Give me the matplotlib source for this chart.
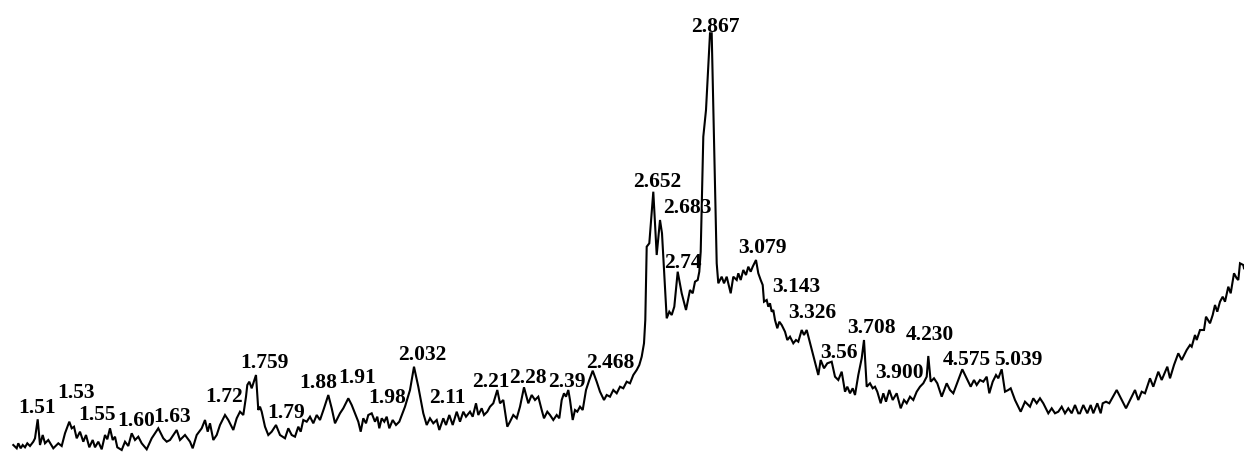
import numpy as np
import matplotlib
matplotlib.use("Agg")
from matplotlib import pyplot as plt

# trace of the pattern: horizontal position and intensity
position = [
    13.3, 16.7, 18.3, 20.7, 22.7, 25, 27.3, 30, 33.3, 35, 37.7, 40, 42.7, 45, 48.3,
    53.3, 58.3, 61.7, 65, 69.3, 71.7, 74, 76.7, 80, 83.3, 86, 89.3, 92.7, 95, 98.3,
    101.7, 105, 107.3, 110, 112.7, 115, 117.3, 121.7, 125, 128.3, 131.7, 135, 138.3,
    141.7, 146.7, 151.7, 158.3, 163.3, 166.7, 170, 176.7, 180, 185, 190, 192.7, 196.7,
    201.7, 205, 207.7, 210, 213.3, 216.7, 220, 225, 228.3, 233.3, 236.7, 240, 243.3,
    246, 247.3, 249.3, 251.7, 253.3, 256, 258.3, 260, 261.7, 265, 268.3, 271.7, 276,
    280, 285, 288.3, 291.7, 295, 298.3, 300.7, 303.3, 306.7, 310, 313.3, 316.7, 320,
    324, 328.3, 331.7, 335,
    340, 343.3, 348.3, 351.7, 355, 358.3, 360.7, 363.3, 366, 368.3, 371.7, 375, 377.3,
    379.3, 381.7, 384.3, 386.7, 389.3, 392.7, 396, 399.3, 405, 410, 414, 418.3, 423.3,
    426.7, 430, 433.3, 436.7, 439.3, 443.3, 446, 449.3, 452.7, 456.7, 460, 463.3, 466,
    470, 472.7, 476, 478.3, 481.7, 484, 487.3, 490, 493.3, 497.3, 500, 503.3,
    507.3, 510, 513.3, 516.7, 520, 524, 528.3, 531.7, 535, 538.3, 541.7, 544, 547.3,
    550, 553.3, 556.7, 559.3, 561.7, 564, 566, 568.3, 570, 572.7, 575, 577.3, 580,
    582.7, 586, 589.3, 592.7, 596.7, 600, 604, 606.7, 610, 613.3, 616.7, 620, 623.3,
    626.7, 630, 633.3, 636.7, 639.3, 641.7, 644, 645.3,
    646.7, 649.3, 653.3, 656.7, 660, 662, 666.7, 669.3, 671.7, 674.3, 677.7, 681.7,
    686, 690, 692.7, 695, 697.7, 699.3, 700.7, 703.3, 706, 710, 711.7, 716.7, 718.3,
    721.7, 724, 726.7, 730.7, 733.3, 736.7, 738.3, 740.7, 743.3, 746, 748.3, 750.7,
    752.7, 756,
    758.3, 760.7, 762.7, 764, 766.7, 768.3, 770, 771.7, 773.3, 775, 777.3, 779.3,
    781.7, 785, 787.3, 790, 793.3, 796, 798.3, 801.7, 804, 806.7, 809.3, 812.7, 815,
    818.3, 820.7, 824, 827.3, 831.7, 835, 838.3, 841.7, 845, 847.3, 850, 852.7, 855,
    858.3, 861.7, 864,
    866.7, 870, 872.7, 875, 877.3, 880.7, 883.3, 886, 889.3, 892.7, 896.7, 900.7, 904,
    906.7, 910, 913.3, 916.7, 920, 923.3, 926.7, 928.3, 930.7, 934, 937.3, 941.7,
    946.7, 950, 953.3, 958.3, 962.3, 966.7, 970.7, 974, 976.7, 980, 983.3, 986.7,
    989.3, 992.7, 996, 998.3, 1001.7, 1005, 1008.3, 1010.7, 1015, 1020.7, 1025, 1030,
    1033.3, 1036.7, 1040, 1043.3, 1048.3, 1051.7, 1055, 1058.3, 1061.7, 1065, 1068.3,
    1071.7, 1075, 1078.3,
    1080, 1083.3, 1087.3, 1090.7, 1093.3, 1097.3, 1100.7, 1102.7, 1106, 1109.3,
    1116.7, 1126, 1131.7, 1135, 1138.3, 1141.7, 1145, 1150, 1153.3, 1158.3, 1161.7,
    1167.3, 1170, 1174, 1178.3, 1181.7, 1186.7, 1190, 1191.7, 1195, 1196.7, 1200,
    1204, 1206, 1210, 1212.7, 1215, 1217.3, 1220, 1222.7, 1225, 1228.3, 1230.7, 1234,
    1236.7, 1238.3, 1240, 1243.3, 1244,
]

row = [
    445, 448.3, 443.3, 448.3, 445, 447.3, 443.3, 446, 441.7, 438.3, 419.3, 445, 435,
    443.3, 440, 448.3, 443.3, 446, 433.3, 421.7, 428.3, 426.7, 438.3, 431.7, 441.7,
    435, 447.3, 440, 447.3, 441.7, 449.3, 435, 439.3, 428.3, 440, 436.7, 447.3, 450,
    441.7, 446, 433.3, 440, 436.7, 443.3, 449.3, 438.3, 428.3, 438.3, 441.7, 440,
    430, 440, 435, 441.7, 448.3, 435, 428.3, 420, 431.7, 423.3, 440, 435, 425, 415,
    420, 430, 418.3, 411.7, 415, 396.7, 385, 381.7, 388.3, 383.3, 375, 410, 406.7,
    411.7, 426.7, 435, 431.7, 425, 435, 438.3, 428.3, 435, 436.7, 426.7, 431.7, 420,
    421.7, 416.7, 423.3, 415, 420, 408.3, 395, 408.3, 423.3,
    413.3, 408.3, 398.3, 405, 413.3, 421.7, 431.7, 418.3, 423.3, 415, 413.3, 421.7,
    416.7, 428.3, 418.3, 421.7, 416.7, 428.3, 420, 425, 421.7, 406.7, 390, 366.7,
    386.7, 413.3, 425, 418.3, 423.3, 420, 430, 418.3, 425, 415, 425, 411.7, 421.7,
    411.7, 416.7, 411.7, 416.7, 403.3, 415, 408.3, 415, 411.7, 406.7, 403.3, 390,
    403.3, 400,
    426.7, 421.7, 415, 418.3, 406.7, 387.3, 403.3, 395, 400, 396.7, 410, 418.3, 411.7,
    415, 420, 415, 418.3, 400, 393.3, 396.7, 390, 400, 420, 410, 411.7, 406.7, 410,
    390, 380, 370.7, 381.7, 391.7, 400, 395, 396.7, 390, 393.3, 386.7, 388.3, 381.7,
    383.3, 375, 370, 365, 356.7, 343.3, 320,
    246.7, 243.3, 191.7, 255, 220, 233.3, 318.3, 311.7, 315, 306.7, 271.7, 293.3, 310,
    290, 293.3, 281.7, 280, 271.7, 251.7, 136.7, 110, 33.3, 33.3, 263.3, 283.3, 276.7,
    283.3, 276.7, 293.3, 276.7, 280, 273.3, 280, 270, 275, 266.7, 271.7, 266.7, 260,
    273.3, 280, 285, 301.7, 300, 306.7, 303.3, 311.7, 310, 320, 328.3, 321.7, 325,
    331.7, 340, 336.7, 343.3, 340, 341.7, 330, 335, 330, 340, 353.3, 361.7, 375, 360,
    368.3, 363.3, 361.7, 376.7, 380, 371.7, 391.7, 386.7, 393.3, 388.3, 395, 375,
    358.3, 340,
    386.7, 383.3, 388.3, 386.7, 391.7, 403.3, 393.3, 401.7, 390, 400, 393.3, 408.3,
    400, 403.3, 396.7, 400, 391.7, 386.7, 383.3, 376.7, 356, 381.7, 378.3, 383.3,
    396.7, 383.3, 390, 393.3, 380, 369.3, 378.3, 386.7, 380, 385, 380, 381.7, 376.7,
    393.3, 381.7, 375, 378.3, 369.3, 391.7, 390, 388.3, 400, 411.7, 401.7, 406.7,
    398.3, 403.3, 398.3, 403.3, 413.3, 408.3, 413.3, 411.7, 406.7, 413.3, 408.3,
    413.3, 405, 413.3,
    413.3, 405, 413.3, 405, 413.3, 403.3, 413.3, 403.3, 401.7, 403.3, 390, 408.3,
    396.7, 390, 400, 391.7, 393.3, 378.3, 386.7, 371.7, 380, 366.7, 378.3, 365, 353.3,
    360, 350, 345, 346.7, 335, 340, 330, 330, 316.7, 323.3, 315, 305, 311.7, 301.7,
    296.7, 301.7, 286.7, 293.3, 273.3, 278.3, 280, 263.3, 265, 268.3,
]

H = 454
intensity = H - np.array(row)

# peak d-values and where their labels sit (centre x, baseline row)
peak_labels = ["1.51", "1.53", "1.55", "1.60", "1.63", "1.72", "1.759", "1.79",
               "1.88", "1.91", "1.98", "2.032", "2.11", "2.21", "2.28", "2.39",
               "2.468", "2.652", "2.683", "2.74", "2.867", "3.079", "3.143",
               "3.326", "3.56", "3.708", "3.900", "4.230", "4.575", "5.039"]
label_x = [37, 76, 97, 136, 172, 224, 264, 286, 318, 357, 387, 422, 447, 491,
           528, 567, 610, 657, 687, 683, 715, 762, 796, 812, 839, 872, 899, 930,
           967, 1018]
label_row = [413, 398, 420, 426, 422, 402, 368, 418, 388, 383, 403, 360, 403, 387,
             383, 387, 368, 187, 213, 268, 32, 253, 292, 318, 358, 333, 378, 340,
             365, 365]

fig = plt.figure(figsize=(12.44, 4.54), dpi=100)
ax = fig.add_axes([0, 0, 1, 1])
ax.plot(position, intensity, color='k', lw=1.5, solid_joinstyle='miter')

for txt, lx, lr in zip(peak_labels, label_x, label_row):
    ax.text(lx, H - lr, txt, ha='center', va='baseline', fontsize=15.5,
            family='Liberation Serif', fontweight='bold')

ax.set_xlim(0, 1244)
ax.set_ylim(0, H)
ax.axis('off')

plt.savefig('out.png', dpi=100, facecolor='white')
